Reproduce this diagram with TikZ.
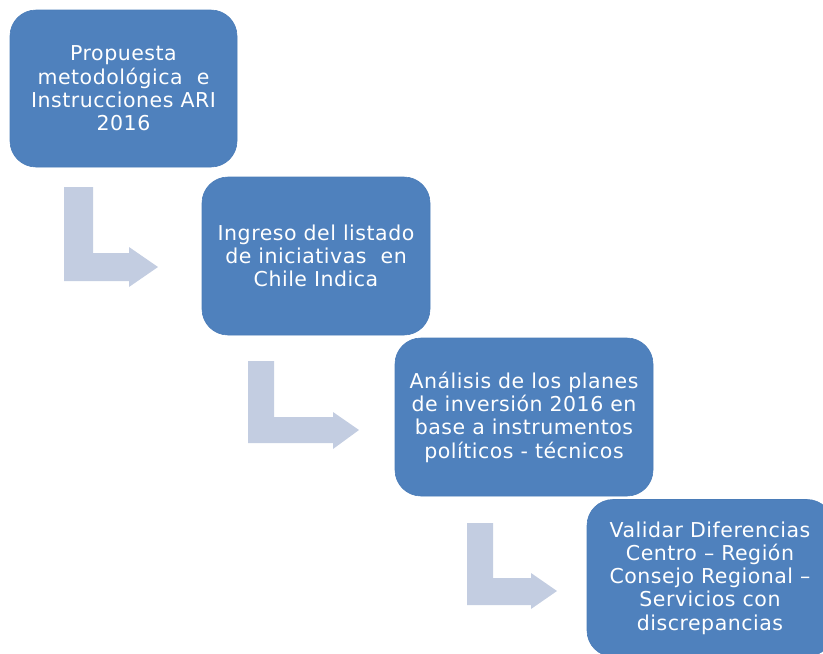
\documentclass[tikz,border=0pt]{standalone}
\usepackage{fontspec}
\setmainfont{DejaVu Sans}[LetterSpace=2.5]
\definecolor{boxblue}{HTML}{4F81BD}
\definecolor{boxedge}{HTML}{4A7CB8}
\definecolor{arrowgray}{HTML}{C3CDE1}
\begin{document}
\begin{tikzpicture}[x=1pt,y=-1pt,
  stepbox/.style={rectangle, rounded corners=26pt, fill=boxblue, draw=boxedge, line width=0.6pt,
    text=white, align=center, inner sep=0pt,
    font=\fontsize{20.5}{23.3}\selectfont},
  bent/.style={fill=arrowgray, draw=none}]
\useasboundingbox (0,0) rectangle (823,654);
\node[stepbox, minimum width=227pt, minimum height=157pt] (b1) at (123.5,88.5)
  {Propuesta\\metodológica~ e\\Instrucciones ARI\\2016};
\node[stepbox, minimum width=228pt, minimum height=158pt] (b2) at (316,256)
  {Ingreso del listado\\de iniciativas~ en\\Chile Indica};
\node[stepbox, minimum width=258pt, minimum height=158pt] (b3) at (524,417)
  {Análisis de los planes\\de inversión 2016 en\\base a instrumentos\\políticos - técnicos};
\node[stepbox, minimum width=246pt, minimum height=157pt] (b4) at (710,578)
  {Validar Diferencias\\Centro – Región\\Consejo Regional –\\Servicios con\\discrepancias};
% bent arrows
\fill[bent] (64,187) -- (93,187) -- (93,253) -- (129,253) -- (129,247) -- (158,267)
  -- (129,287) -- (129,281) -- (64,281) -- cycle;
\fill[bent] (248,361) -- (274,361) -- (274,417) -- (333,417) -- (333,412) -- (359,430)
  -- (333,449) -- (333,443) -- (248,443) -- cycle;
\fill[bent] (467,523) -- (493,523) -- (493,578) -- (531,578) -- (531,573) -- (557,591)
  -- (531,609) -- (531,605) -- (467,605) -- cycle;
\end{tikzpicture}
\end{document}
